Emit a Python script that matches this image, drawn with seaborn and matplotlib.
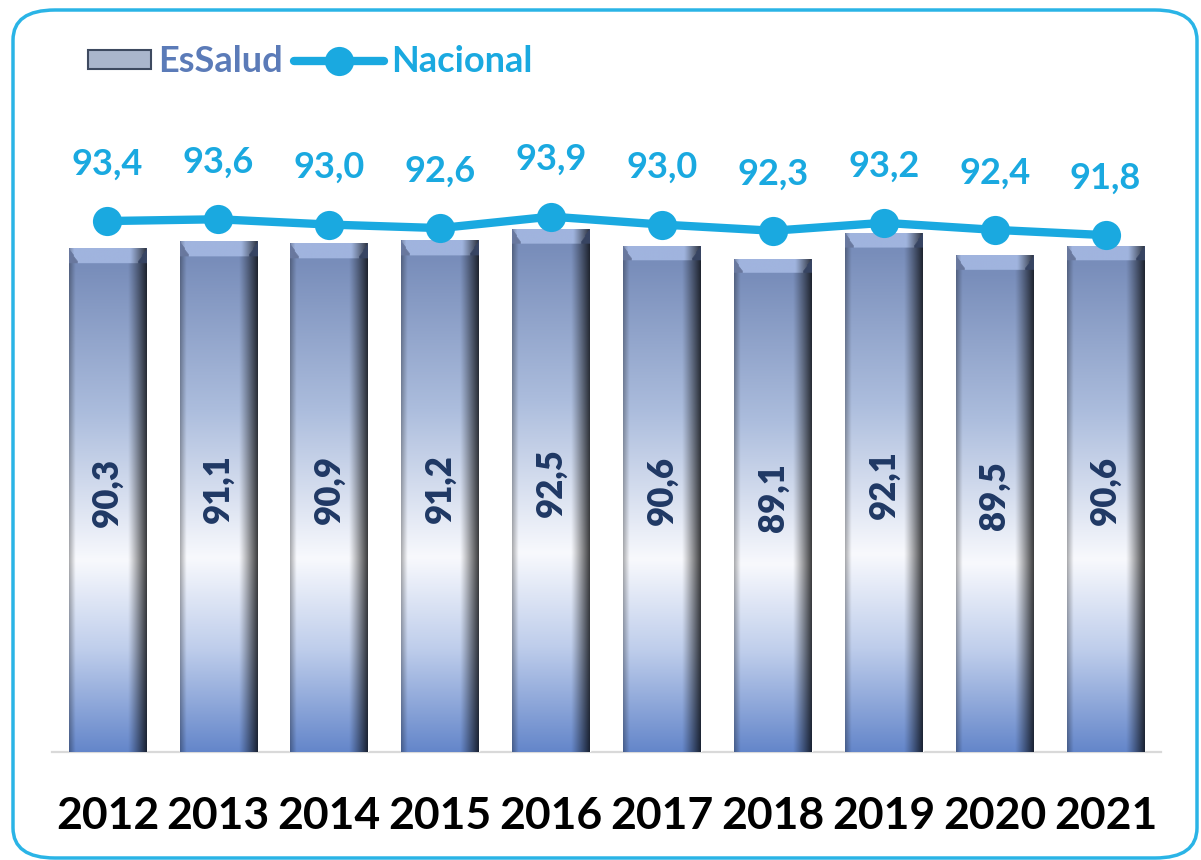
import numpy as np
import pandas as pd
import matplotlib
matplotlib.use("Agg")
import matplotlib.pyplot as plt
import seaborn as sns
from matplotlib.patches import FancyBboxPatch, Patch, Rectangle
from matplotlib.lines import Line2D
from matplotlib.legend_handler import HandlerPatch

years = ["2012", "2013", "2014", "2015", "2016", "2017", "2018", "2019", "2020", "2021"]
essalud = [90.3, 91.1, 90.9, 91.2, 92.5, 90.6, 89.1, 92.1, 89.5, 90.6]
nacional = [93.4, 93.6, 93.0, 92.6, 93.9, 93.0, 92.3, 93.2, 92.4, 91.8]

def fmt(v):
    return f"{v:.1f}".replace(".", ",")

sns.set_theme(style="white")
plt.rcParams["font.family"] = ["Lato", "DejaVu Sans"]

LINE_C = "#1aa9e0"
NAVY = "#1f3864"

fig = plt.figure(figsize=(12.01, 8.60), dpi=100)
ax = fig.add_axes([52 / 1201, 1 - 752 / 860, (1161 - 52) / 1201, (752 - 130) / 860])

YMIN = 33.2
YMAX = YMIN + 622 / 8.82

df = pd.DataFrame({"year": years, "EsSalud": essalud})
sns.barplot(data=df, x="year", y="EsSalud", color="#7f96c2", width=0.7,
            ax=ax, saturation=1, zorder=2)

# gradient image for bars
H, W = 400, 80
t = np.linspace(0, 1, H)[:, None]
stops_t = [0.0, 0.035, 0.33, 0.62, 0.8, 1.0]
stops_c = np.array([[120, 141, 186], [120, 141, 186], [172, 189, 221],
                    [248, 249, 253], [190, 205, 235], [100, 134, 202]]) / 255.0
vert = np.stack([np.interp(t[:, 0], stops_t, stops_c[:, k]) for k in range(3)], axis=1)
img = np.repeat(vert[:, None, :], W, axis=1)
xs = np.linspace(0, 1, W)
shade = np.ones(W)
shade = np.where(xs < 0.08, 0.7 + 0.3 * xs / 0.08, shade)
shade = np.where(xs > 0.76, 1 - 0.74 * ((xs - 0.76) / 0.24) ** 1.1, shade)
img = img * shade[None, :, None]
# bevel at top
bev = 12
for r in range(bev):
    inset = int(r * 0.8) + 1
    img[r, inset:W - inset] = np.array([160, 180, 222]) / 255.0 * np.clip(shade[inset:W - inset, None] * 1.08, 0, 1)
    img[r, :inset] = np.array([105, 120, 158]) / 255.0
    img[r, W - inset:] = np.array([55, 68, 98]) / 255.0

for p, v in zip(ax.patches, essalud):
    x0 = p.get_x()
    w = p.get_width()
    im = ax.imshow(img, extent=(x0, x0 + w, YMIN, v), aspect="auto",
                   origin="upper", zorder=3, interpolation="bilinear")
    im.set_clip_path(p)
    ax.text(x0 + w / 2, (YMIN + v) / 2 + 0.9, fmt(v), rotation=90, ha="center",
            va="center", color=NAVY, fontsize=25, fontweight="heavy", zorder=5)

xpos = np.arange(len(years))
sns.lineplot(x=xpos, y=nacional, ax=ax, color=LINE_C, linewidth=6, marker="o",
             markersize=21, markeredgewidth=0, zorder=6)
for xi, v in zip(xpos, nacional):
    ax.annotate(fmt(v), (xi, v), xytext=(0, 41), textcoords="offset points",
                ha="center", va="center", color=LINE_C, fontsize=26,
                fontweight="bold", zorder=7)

ax.set_xlim(-0.5, 9.5)
ax.set_ylim(YMIN, YMAX)
ax.set_xlabel("")
ax.set_ylabel("")
ax.set_yticks([])
ax.set_xticks(xpos)
ax.set_xticklabels(years, fontsize=32, fontweight="bold", color="black")
ax.tick_params(axis="x", length=0, pad=32)
for s in ["top", "right", "left"]:
    ax.spines[s].set_visible(False)
ax.spines["bottom"].set_color("#d9d9d9")
ax.spines["bottom"].set_linewidth(1.6)
ax.spines["bottom"].set_zorder(1)


def short_patch(legend, orig_handle, xdescent, ydescent, width, height, fontsize):
    return Rectangle((-xdescent + width * 0.3, -ydescent), width * 0.7, height)


handles = [Patch(facecolor="#aab6cc", edgecolor="#3e4a60", linewidth=1.5),
           Line2D([0], [0], color=LINE_C, lw=6, marker="o", markersize=21, markeredgewidth=0)]
leg = fig.legend(handles, ["EsSalud", "Nacional"], loc="center left",
                 bbox_to_anchor=(46 / 1201, 1 - 62 / 860), ncol=2, frameon=False,
                 fontsize=26, handlelength=2.5, handleheight=0.4, columnspacing=0.3,
                 handletextpad=0.2, borderaxespad=0,
                 handler_map={Patch: HandlerPatch(patch_func=short_patch)})
for txt, c in zip(leg.get_texts(), ["#5b7bb8", LINE_C]):
    txt.set_color(c)
    txt.set_fontweight("bold")

border = FancyBboxPatch((13 / 1201, 2 / 860), (1197 - 13) / 1201, (850 - 2) / 860,
                        boxstyle="round,pad=0,rounding_size=0.035",
                        transform=fig.transFigure, facecolor="none",
                        edgecolor="#2ab4e6", linewidth=2.5, zorder=0)
fig.patches.append(border)

fig.savefig("out.png", dpi=100)
